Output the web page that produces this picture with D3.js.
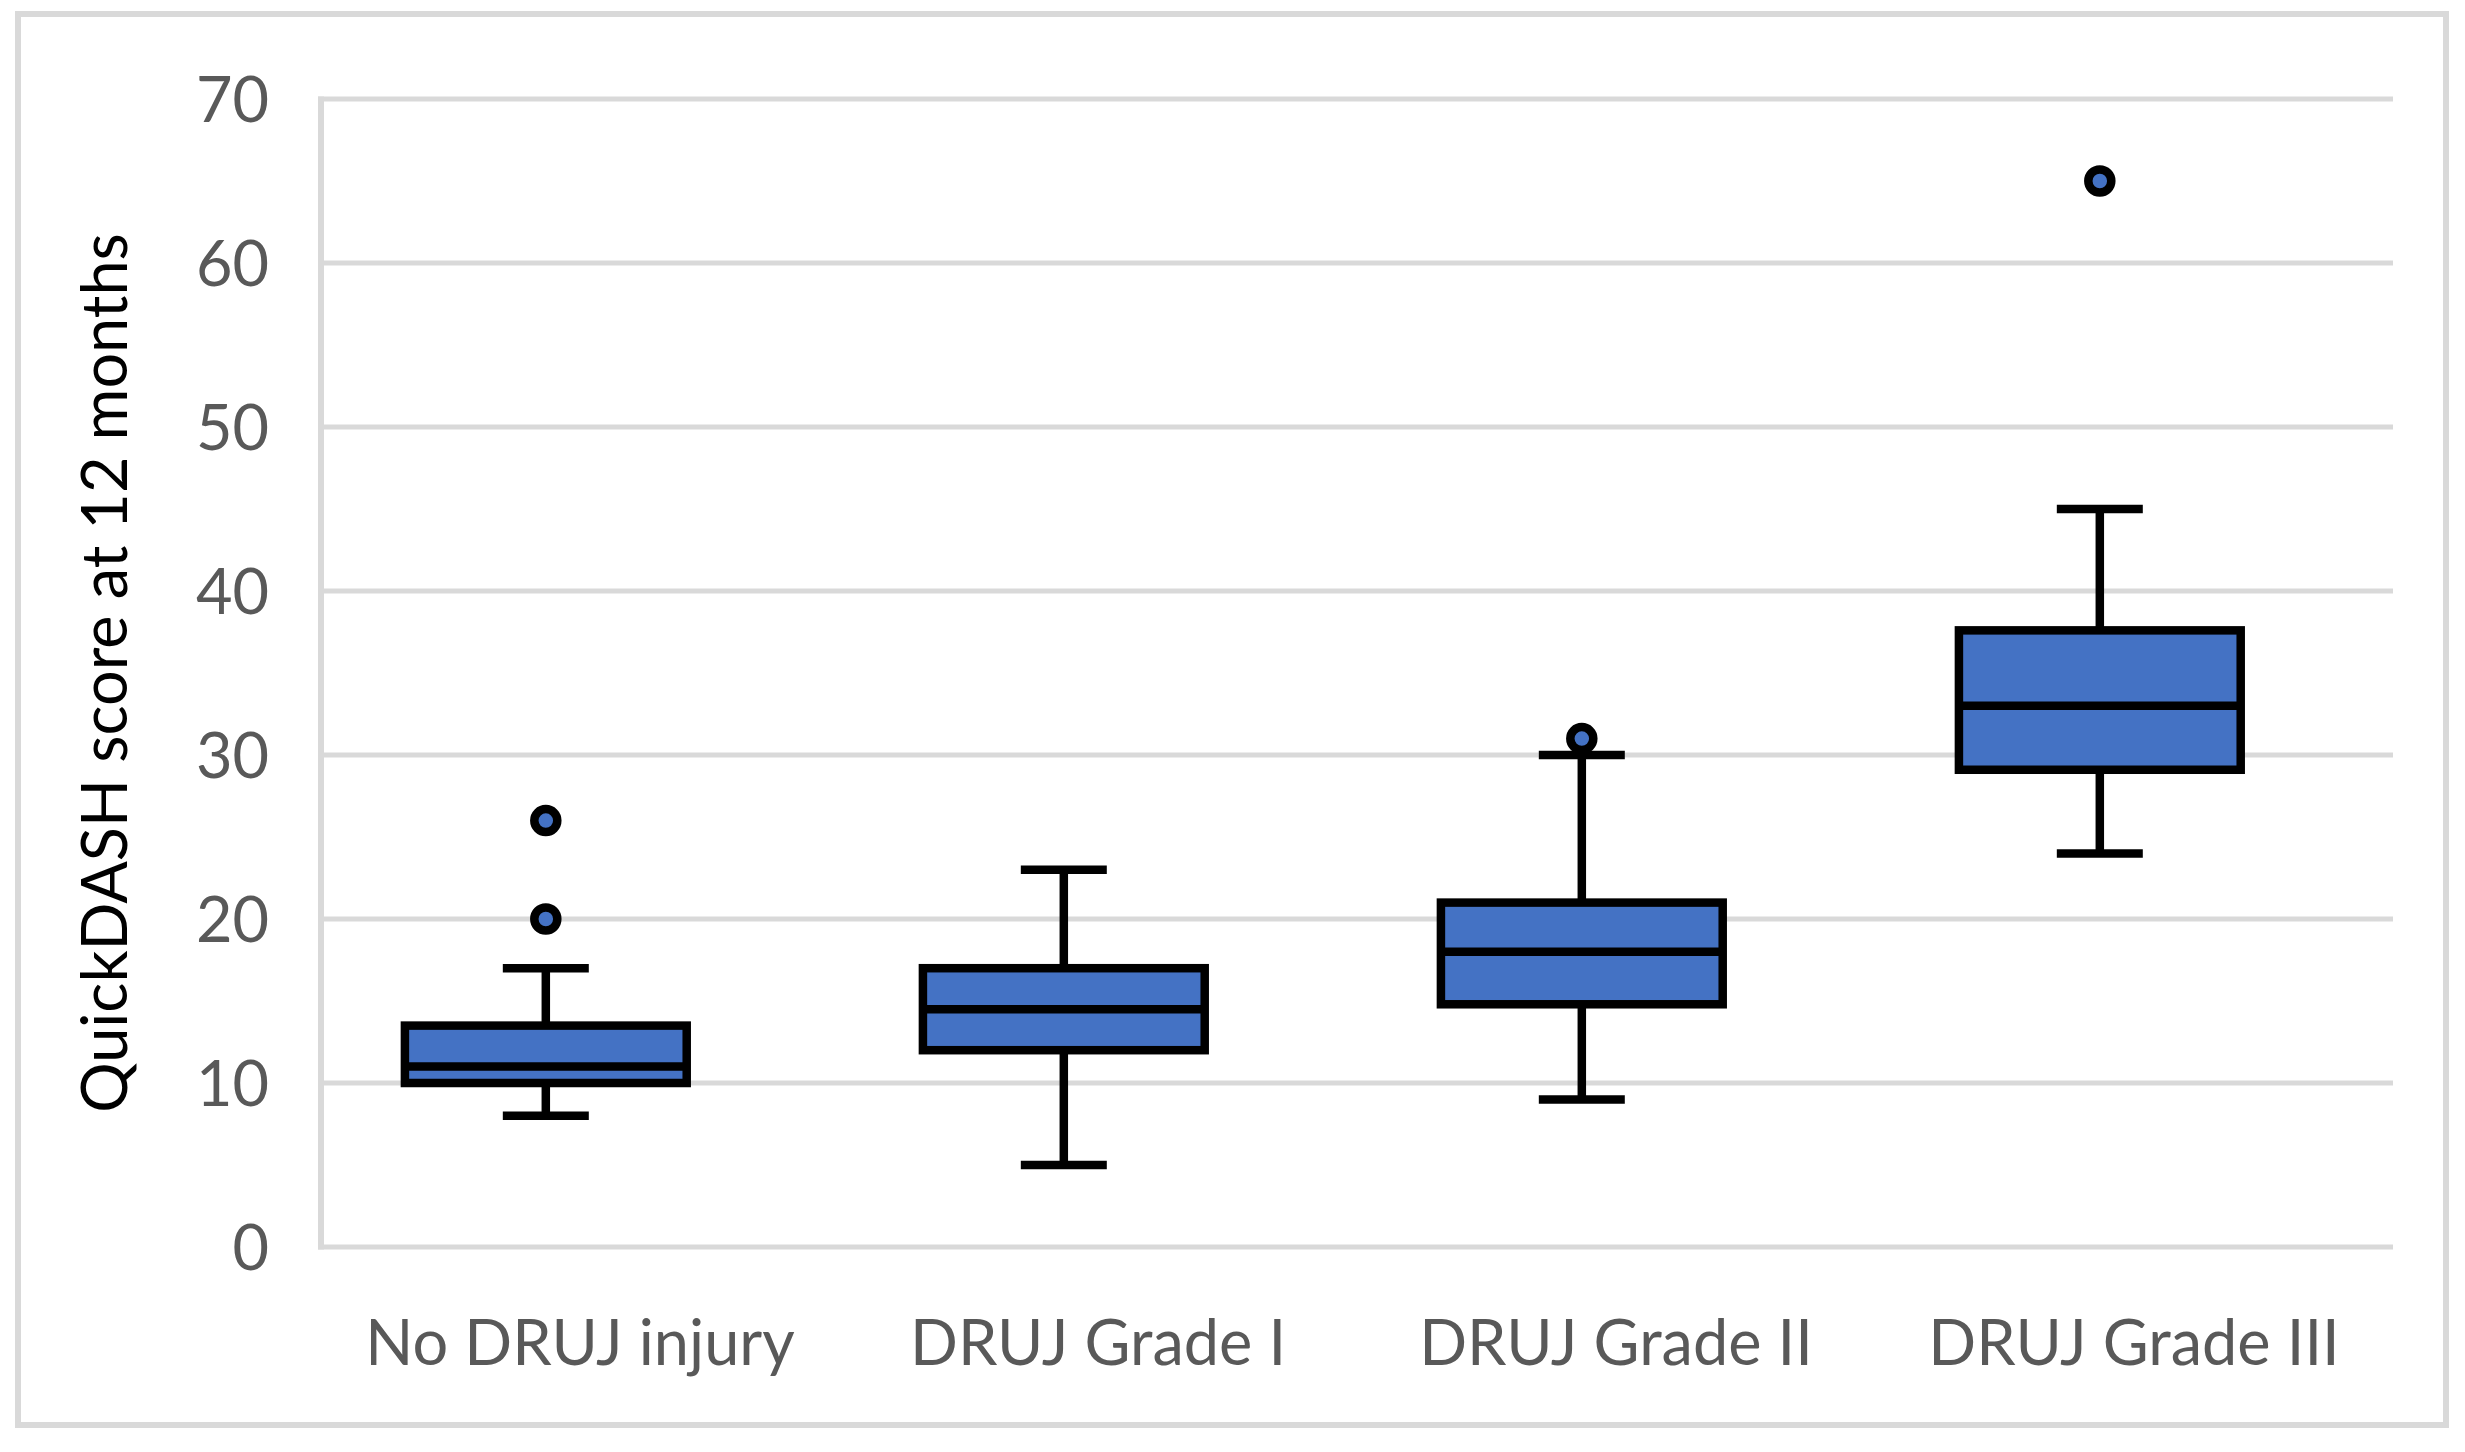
<!DOCTYPE html>
<html>
<head>
<meta charset="utf-8">
<script src="https://cdn.jsdelivr.net/npm/d3@7"></script>
<style>
  body { margin: 0; background: #fff; }
  text { font-family: Lato, "Open Sans", sans-serif; }
  .tick-label { fill: #595959; font-size: 63px; }
  .cat-label { fill: #595959; font-size: 63px; }
  .title { fill: #000; font-size: 63px; }
</style>
</head>
<body>
<svg id="chart"></svg>
<script>
// data
var categories = ["No DRUJ injury", "DRUJ Grade I", "DRUJ Grade II", "DRUJ Grade III"];
var whiskerLow = [8, 5, 9, 24];
var q1 = [10, 12, 14.8, 29.1];
var median = [11, 14.5, 18, 33];
var q3 = [13.5, 17, 21, 37.6];
var whiskerHigh = [17, 23, 30, 45];
var outliers = [[26, 20], [], [31], [65]];
var yTicks = [0, 10, 20, 30, 40, 50, 60, 70];

var screen = {width: 2465, height: 1452};
var margins = {top: 99, bottom: 205, left: 321, right: 72};
var graph = {
    width: screen.width - margins.left - margins.right,
    height: screen.height - margins.top - margins.bottom
};

var svg = d3.select("#chart")
    .attr("width", screen.width)
    .attr("height", screen.height);

// outer frame
svg.append("rect")
    .attr("x", 18).attr("y", 14)
    .attr("width", 2428).attr("height", 1411)
    .attr("fill", "#fff")
    .attr("stroke", "#d9d9d9")
    .attr("stroke-width", 6);

var xScale = d3.scaleBand()
    .domain(categories)
    .range([margins.left, margins.left + graph.width])
    .padding(0);

var yScale = d3.scaleLinear()
    .domain([0, 70])
    .range([margins.top + graph.height, margins.top]);

// gridlines
svg.append("g")
    .selectAll("line")
    .data(yTicks)
    .enter()
    .append("line")
    .attr("x1", margins.left - 3)
    .attr("x2", margins.left + graph.width)
    .attr("y1", function(d) { return yScale(d); })
    .attr("y2", function(d) { return yScale(d); })
    .attr("stroke", "#d9d9d9")
    .attr("stroke-width", 5);

// left axis line
svg.append("line")
    .attr("x1", margins.left).attr("x2", margins.left)
    .attr("y1", yScale(70) - 2.5).attr("y2", yScale(0) + 2.5)
    .attr("stroke", "#d9d9d9")
    .attr("stroke-width", 6);

// y tick labels
svg.append("g")
    .selectAll("text")
    .data(yTicks)
    .enter()
    .append("text")
    .classed("tick-label", true)
    .attr("text-anchor", "end")
    .attr("x", 269)
    .attr("y", function(d) { return yScale(d) + 23; })
    .text(function(d) { return d; });

// category labels
svg.append("g")
    .selectAll("text")
    .data(categories)
    .enter()
    .append("text")
    .classed("cat-label", true)
    .attr("text-anchor", "middle")
    .attr("x", function(d) { return xScale(d) + xScale.bandwidth() / 2; })
    .attr("y", 1365)
    .text(function(d) { return d; });

// y title
svg.append("text")
    .classed("title", true)
    .attr("text-anchor", "middle")
    .attr("transform", "translate(127," + (margins.top + graph.height / 2) + ") rotate(-90)")
    .text("QuickDASH score at 12 months");

// boxes
var bw = xScale.bandwidth();
var boxW = bw * 0.544;
var capW = bw * 0.166;
var center = function(i) { return xScale(categories[i]) + bw / 2 - bw * 0.066; };

var boxes = svg.append("g")
    .selectAll("g")
    .data(categories)
    .enter()
    .append("g");

// whiskers
boxes.append("line")
    .attr("x1", function(d, i) { return center(i); })
    .attr("x2", function(d, i) { return center(i); })
    .attr("y1", function(d, i) { return yScale(whiskerHigh[i]); })
    .attr("y2", function(d, i) { return yScale(whiskerLow[i]); })
    .attr("stroke", "#000")
    .attr("stroke-width", 8.5);

boxes.each(function(d, i) {
    var g = d3.select(this);
    [whiskerHigh[i], whiskerLow[i]].forEach(function(v) {
        g.append("line")
            .attr("x1", center(i) - capW / 2)
            .attr("x2", center(i) + capW / 2)
            .attr("y1", yScale(v))
            .attr("y2", yScale(v))
            .attr("stroke", "#000")
            .attr("stroke-width", 8.5);
    });
});

boxes.append("rect")
    .attr("x", function(d, i) { return center(i) - boxW / 2; })
    .attr("width", boxW)
    .attr("y", function(d, i) { return yScale(q3[i]); })
    .attr("height", function(d, i) { return yScale(q1[i]) - yScale(q3[i]); })
    .attr("fill", "#4472c4")
    .attr("stroke", "#000")
    .attr("stroke-width", 8.5);

boxes.append("line")
    .attr("x1", function(d, i) { return center(i) - boxW / 2; })
    .attr("x2", function(d, i) { return center(i) + boxW / 2; })
    .attr("y1", function(d, i) { return yScale(median[i]); })
    .attr("y2", function(d, i) { return yScale(median[i]); })
    .attr("stroke", "#000")
    .attr("stroke-width", 8.5);

// outliers
boxes.selectAll("circle")
    .data(function(d, i) { return outliers[i].map(function(v) { return {i: i, v: v}; }); })
    .enter()
    .append("circle")
    .attr("cx", function(p) { return center(p.i); })
    .attr("cy", function(p) { return yScale(p.v); })
    .attr("r", 11.5)
    .attr("fill", "#4472c4")
    .attr("stroke", "#000")
    .attr("stroke-width", 8.5);
</script>
</body>
</html>
